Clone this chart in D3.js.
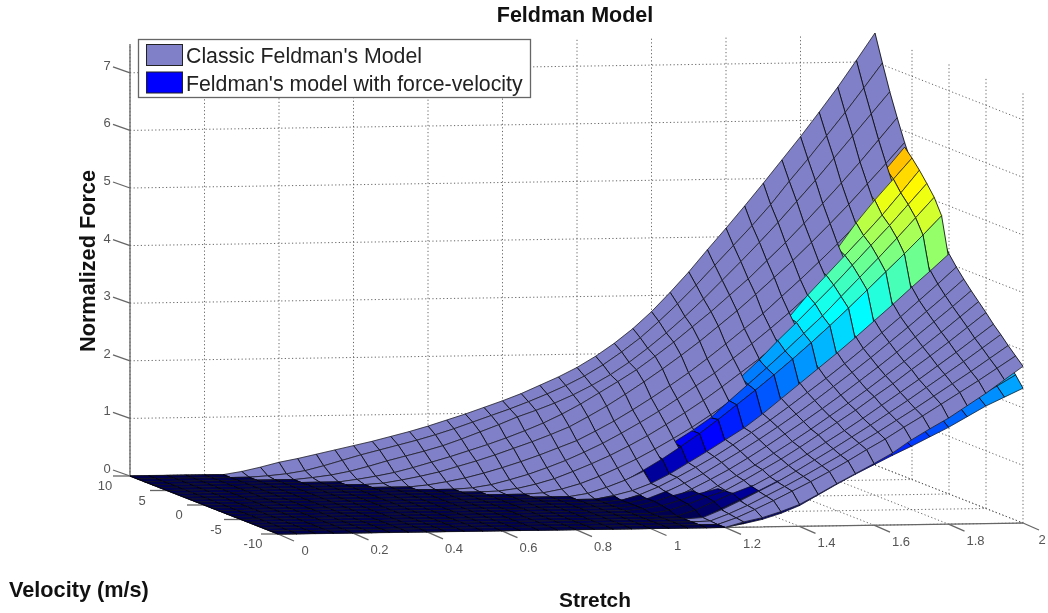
<!DOCTYPE html>
<html><head><meta charset="utf-8"><title>Feldman Model</title>
<script src="https://cdnjs.cloudflare.com/ajax/libs/d3/7.8.5/d3.min.js"></script>
<style>html,body{margin:0;padding:0;background:#fff}svg{display:block;filter:blur(.4px)}text{font-family:"Liberation Sans",Arial,sans-serif}</style>
</head><body><svg id="c" width="1048" height="613"></svg>
<script>
const titleText = "Feldman Model";
const legendLabels = ["Classic Feldman's Model", "Feldman's model with force-velocity"];
const stretchGrid = d3.range(41).map(i => i * 0.05);
// Rows are estimated every 1 m/s; the reference mesh looks about twice as dense in velocity.
// The in-between rows are not invented here, so the hatching is coarser than the original.
const velocityGrid = d3.range(21).map(i => 10 - i);
const stretchTicks = [0, 0.2, 0.4, 0.6, 0.8, 1, 1.2, 1.4, 1.6, 1.8, 2];
const velocityTicks = [10, 5, 0, -5, -10];
const forceTicks = [0, 1, 2, 3, 4, 5, 6, 7];
// Force x100, one row per velocity (10 down to -10).
// First number of a row = how many leading stretch columns are zero.
const classicRows = [
[6,5,12,20,26,33,40,47,54,62,70,79,89,99,110,121,133,147,161,177,196,218,243,272,305,340,378,415,453,492,532,572,614,657,703,750],
[7,2,5,10,18,27,36,44,52,60,69,79,90,101,112,124,137,151,167,186,208,232,260,290,322,356,390,424,460,500,538,578,618,660,703],
[9,3,7,13,21,30,38,46,55,66,78,90,103,114,126,140,156,174,195,219,245,273,303,335,367,400,434,470,506,544,582,620,658],
[11,4,9,15,23,32,41,51,61,72,84,97,112,129,148,167,187,210,234,260,286,314,342,373,404,437,471,506,542,580,618],
[12,2,7,13,20,29,38,48,59,70,82,95,112,130,150,171,193,216,240,266,292,320,349,378,409,441,474,509,544,580],
[14,3,8,14,22,31,41,52,64,76,92,109,128,148,169,191,215,240,266,292,321,350,380,411,444,477,511,547],
[16,2,7,15,24,35,47,61,76,93,111,130,151,173,195,220,245,271,298,327,356,387,418,450,484,518],
[17,1,5,12,21,33,46,60,76,93,112,132,153,176,200,224,250,277,305,333,363,394,426,458,492],
[19,2,8,17,29,43,58,75,93,112,133,155,178,203,229,255,283,312,341,371,402,435,468],
[21,5,15,27,42,58,75,95,115,137,160,183,209,235,262,290,318,348,378,410,442],
[22,6,14,26,42,61,80,100,120,144,170,196,222,248,275,303,331,360,388,417],
[22,2,12,25,41,58,76,96,117,138,161,185,209,234,260,287,314,342,370,399],
[23,8,21,36,52,71,90,110,131,153,176,200,224,249,275,301,328,355,383],
[23,4,16,31,47,64,83,103,124,145,167,190,214,238,263,289,315,341,368],
[23,1,12,25,41,58,76,96,116,137,159,181,204,228,252,277,302,328,354],
[24,10,23,38,55,73,91,111,132,153,174,197,219,243,266,290,315,340],
[24,5,18,33,49,66,85,104,124,144,165,187,209,231,254,277,301,325],
[24,2,15,30,46,62,80,99,118,138,158,179,200,222,244,266,289,312],
[24,1,13,27,43,59,76,94,112,132,151,171,191,212,233,254,276,298],
[25,11,25,40,56,72,89,107,126,144,164,183,203,223,243,264,285],
[25,9,16,26,38,55,73,90,107,125,147,166,184,205,226,249,272]
];
const velocityModelRows = [
[34,403,436,469,503,539,576,615],
[34,407,437,468,500,534,568,605],
[34,400,429,460,492,525,558,592],
[34,384,415,447,481,515,551,587],
[34,365,396,428,462,497,534,572],
[33,311,340,370,403,447,486,522,558],
[30,210,235,260,290,328,362,396,430,465,503,542],
[28,145,168,192,222,255,286,318,350,384,418,452,488,524],
[25,68,86,106,128,157,185,213,242,272,302,335,368,401,435,470,505],
[22,12,26,44,63,84,106,130,155,180,206,233,261,290,320,351,382,413,445,478],
[22,5,13,25,40,58,76,95,115,138,163,188,213,240,266,294,322,350,378,406],
[22,3,11,22,36,52,68,86,105,124,145,166,188,211,234,258,283,308,333,359],
[22,3,10,22,33,47,63,80,98,117,137,158,179,201,224,247,271,295,320,345],
[22,3,10,20,28,42,57,74,92,110,129,149,170,191,213,235,258,282,306,331],
[22,3,8,17,28,36,52,68,85,103,122,142,162,182,204,226,248,271,294,318],
[23,5,15,27,37,49,65,81,98,117,136,155,175,196,217,239,261,283,306],
[24,10,24,38,50,60,76,92,110,128,147,166,186,206,227,248,270,292],
[25,17,32,47,63,72,88,105,122,140,159,178,198,218,238,258,279],
[25,10,24,38,52,67,83,99,117,134,152,171,189,208,228,247,267],
[25,9,22,35,49,63,78,94,110,127,144,161,179,197,215,233,252],
[25,6,13,23,36,54,72,89,105,121,136,152,168,186,204,219,234]
];
const lavender = "#8080c8";
const jetStops = ["#000050","#0000ff","#00ffff","#ffff00","#ff0000","#800000"];

const expand = r => { const a = new Array(41).fill(0); r.slice(1).forEach((d, k) => { a[r[0] + k] = d / 100; }); return a; };
const classic = classicRows.map(expand), velocityModel = velocityModelRows.map(expand);

const svg = d3.select("#c");
const xS = d3.scaleLinear([0, 2], [130, 875]), xV = d3.scaleLinear([10, -10], [0, 148]);
const yS = d3.scaleLinear([0, 2], [476, 465]), yV = d3.scaleLinear([10, -10], [0, 58]);
const yZ = d3.scaleLinear([0, 7.5], [0, -432]);
const P = (s, v, z) => [xS(s) + xV(v), yS(s) + yV(v) + yZ(z)];
const jet = d3.scaleLinear([0, 1, 3.1, 5.1, 6.6, 7.4], jetStops).clamp(true);
const line = d3.line();

// grid walls and floor
const grid = svg.append("g").attr("fill", "none").attr("stroke", "#555").attr("stroke-width", .9).attr("stroke-dasharray", "1.2 2.4");
const seg = (a, b) => grid.append("path").attr("d", line([a, b]));
forceTicks.forEach(z => { seg(P(0, 10, z), P(2, 10, z)); seg(P(2, 10, z), P(2, -10, z)); });
stretchTicks.forEach(s => { seg(P(s, 10, 0), P(s, 10, 7.5)); seg(P(s, 10, 0), P(s, -10, 0)); });
velocityTicks.forEach(v => { seg(P(2, v, 0), P(2, v, 7.5)); seg(P(0, v, 0), P(2, v, 0)); });

// axes
const axis = svg.append("g").attr("fill", "none").attr("stroke", "#666").attr("stroke-width", 1.3);
axis.append("path").attr("d", line([P(0, 10, 7.5), P(0, 10, 0), P(0, -10, 0), P(2, -10, 0)]));
axis.append("path").attr("d", line([P(0, 10, 0), P(.24, 10, 0)]));
const labels = svg.append("g").attr("fill", "#555").attr("font-size", 13).attr("text-anchor", "middle");
forceTicks.forEach(z => { const [x, y] = P(0, 10, z);
  axis.append("path").attr("d", line([[x, y], [x - 17, y - 6]]));
  labels.append("text").attr("x", x - 23).attr("y", y - 3).text(z); });
velocityTicks.forEach(v => { const [x, y] = P(0, v, 0);
  axis.append("path").attr("d", line([[x, y], [x - 17, y]]));
  labels.append("text").attr("x", x - 25).attr("y", y + 14).text(v); });
stretchTicks.forEach(s => { const [x, y] = P(s, -10, 0);
  axis.append("path").attr("d", line([[x, y], [x + 16, y + 7]]));
  labels.append("text").attr("x", Math.min(x + 27, 1042)).attr("y", y + 21).text(s); });

// surfaces: cells sorted far to near, lower surface first in each cell
const cells = [];
[[classic, 0], [velocityModel, 1]].forEach(([rows, kind]) => {
  for (let j = 0; j < velocityGrid.length - 1; j++) for (let i = 0; i < stretchGrid.length - 1; i++) {
    const s0 = stretchGrid[i], s1 = stretchGrid[i + 1], v0 = velocityGrid[j], v1 = velocityGrid[j + 1];
    const c = [P(s0, v0, rows[j][i]), P(s1, v0, rows[j][i + 1]), P(s1, v1, rows[j + 1][i + 1]), P(s0, v1, rows[j + 1][i])];
    cells.push({ c, kind, z: d3.mean([rows[j][i], rows[j][i + 1], rows[j + 1][i + 1], rows[j + 1][i]]),
      depth: yS((s0 + s1) / 2) + yV((v0 + v1) / 2), order: j * 100 + i });
  }
});
cells.sort((a, b) => d3.ascending(a.depth, b.depth) || d3.ascending(a.order, b.order) || d3.ascending(a.z, b.z) || d3.ascending(a.kind, b.kind));
const surf = svg.append("g");
surf.selectAll("g").data(cells).join("g").each(function (d) {
  const g = d3.select(this), col = d.kind ? jet(d.z) : lavender;
  g.append("polygon").attr("points", d.c.join(" ")).attr("fill", col).attr("stroke", col).attr("stroke-width", .3);
  g.append("path").attr("d", line([d.c[0], d.c[1]])).attr("stroke", "#111").attr("stroke-width", .7).attr("fill", "none");
  g.append("path").attr("d", line([d.c[2], d.c[3]])).attr("stroke", "#111").attr("stroke-width", .7).attr("fill", "none");
  g.append("path").attr("d", line([d.c[1], d.c[2]])).attr("stroke", "#000").attr("stroke-width", .8).attr("fill", "none");
  g.append("path").attr("d", line([d.c[3], d.c[0]])).attr("stroke", "#000").attr("stroke-width", .8).attr("fill", "none");
});

// legend
const lg = svg.append("g");
lg.append("rect").attr("x", 138.5).attr("y", 39.5).attr("width", 392).attr("height", 58).attr("fill", "#fff").attr("stroke", "#666").attr("stroke-width", 1.3);
legendLabels.forEach((t, i) => {
  lg.append("rect").attr("x", 146.5).attr("y", 44.5 + i * 27.5).attr("width", 36).attr("height", 21).attr("fill", i ? "#0000ff" : lavender).attr("stroke", "#222");
  lg.append("text").attr("x", 186).attr("y", 63 + i * 28).attr("font-size", 21.3).attr("fill", "#222").text(t);
});

// titles
const bold = (t, x, y, a, fs) => svg.append("text").attr("x", x).attr("y", y).attr("text-anchor", a).attr("font-size", fs).attr("font-weight", "bold").attr("fill", "#111").text(t);
bold(titleText, 575, 22, "middle", 21.5);
bold("Velocity (m/s)", 9, 597, "start", 21.7);
bold("Stretch", 595, 607, "middle", 20.9);
bold("Normalized Force", 0, 0, "middle", 21.7).attr("transform", "translate(95,261) rotate(-90)");
</script></body></html>
